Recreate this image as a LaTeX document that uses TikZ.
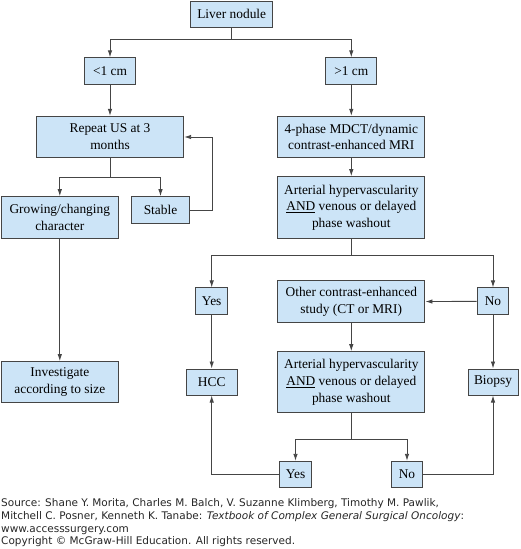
\documentclass[tikz,border=0pt]{standalone}
\usepackage{fontspec}
\setmainfont{Liberation Serif}
\newfontfamily\srcfont{DejaVu Sans}
\usetikzlibrary{arrows.meta}
\definecolor{LNfill}{HTML}{CCE4F7}
\definecolor{LNline}{HTML}{454545}
\tikzset{LNbox/.style={draw=LNline,fill=LNfill,line width=1pt,align=center,inner sep=0pt,
           font=\fontsize{13.4}{16.8}\selectfont},
         LNarr/.style={draw=LNline,line width=0.9pt,-{Latex[length=7pt,width=4.5pt]}},
         LNln/.style={draw=LNline,line width=0.9pt}}

\begin{document}
\begin{tikzpicture}[x=1pt,y=-1pt]
  \useasboundingbox (0,0) rectangle (520,549);
  % top of the tree
  \node[LNbox,minimum width=82pt,minimum height=26.3pt] (liver) at (231.7,14.2) {Liver nodule};
  \node[LNbox,minimum width=50.7pt,minimum height=26.3pt] (lt) at (110,71) {<1 cm};
  \node[LNbox,minimum width=50.7pt,minimum height=26.3pt] (gt) at (351.3,71) {>1 cm};
  \draw[LNarr] (liver.south) -- ++(0,11.4) -| (lt.north);
  \draw[LNarr] (liver.south) -- ++(0,11.4) -| (gt.north);
  % left branch
  \node[LNbox,minimum width=147.3pt,minimum height=41.3pt] (repeat) at (110,137) {Repeat US at 3\\months};
  \node[LNbox,minimum width=117pt,minimum height=42pt] (grow) at (59.8,217.7) {Growing/changing\\character};
  \node[LNbox,minimum width=58.4pt,minimum height=26.6pt] (stable) at (160.5,210) {Stable};
  \node[LNbox,minimum width=117pt,minimum height=41.3pt] (invest) at (59.8,382.3) {Investigate\\according to size};
  \draw[LNarr] (lt) -- (repeat);
  \draw[LNarr] (repeat.south) -- ++(0,19.6) -| (grow.north);
  \draw[LNarr] (repeat.south) -- ++(0,19.6) -| (stable.north);
  \draw[LNarr] (stable.east) -- ++(22,0) |- (repeat.east);
  \draw[LNarr] (grow) -- (invest);
  % right branch
  \node[LNbox,minimum width=147.3pt,minimum height=41.3pt] (mdct) at (351.3,137) {4-phase MDCT/dynamic\\contrast-enhanced MRI};
  \node[LNbox,minimum width=147.3pt,minimum height=62pt] (art1) at (351.3,207.7) {Arterial hypervascularity\\\underline{AND} venous or delayed\\phase washout};
  \node[LNbox,minimum width=32pt,minimum height=26.7pt] (yes1) at (211.7,301.3) {Yes};
  \node[LNbox,minimum width=147.3pt,minimum height=41.7pt] (other) at (351.3,301.8) {Other contrast-enhanced\\study (CT or MRI)};
  \node[LNbox,minimum width=31.6pt,minimum height=26.7pt] (no1) at (493,301.3) {No};
  \node[LNbox,minimum width=50.7pt,minimum height=26pt] (hcc) at (211.7,382) {HCC};
  \node[LNbox,minimum width=147.3pt,minimum height=61pt] (art2) at (351.3,382.2) {Arterial hypervascularity\\\underline{AND} venous or delayed\\phase washout};
  \node[LNbox,minimum width=50pt,minimum height=26pt] (biopsy) at (493,382) {Biopsy};
  \node[LNbox,minimum width=32.4pt,minimum height=26pt] (yes2) at (295.5,474.3) {Yes};
  \node[LNbox,minimum width=31.7pt,minimum height=26pt] (no2) at (407,474.3) {No};
  \draw[LNarr] (gt) -- (mdct);
  \draw[LNarr] (mdct) -- (art1);
  \draw[LNarr] (art1.south) -- ++(0,16) -| (yes1.north);
  \draw[LNarr] (art1.south) -- ++(0,16) -| (no1.north);
  \draw[LNarr] (no1) -- (other);
  \draw[LNarr] (yes1) -- (hcc);
  \draw[LNarr] (no1) -- (biopsy);
  \draw[LNarr] (other) -- (art2);
  \draw[LNarr] (art2.south) -- ++(0,26.3) -| (yes2.north);
  \draw[LNarr] (art2.south) -- ++(0,26.3) -| (no2.north);
  \draw[LNarr] (yes2.west) -| (hcc.south);
  \draw[LNarr] (no2.east) -| (biopsy.south);
  % source line
  \node[anchor=north west,align=left,inner sep=0pt,text=black!85,font=\srcfont\fontsize{10.5}{12.7}\selectfont] (src) at (1,498.5)
    {Source: Shane Y. Morita, Charles M. Balch, V. Suzanne Klimberg, Timothy M. Pawlik,\\
     Mitchell C. Posner, Kenneth K. Tanabe: \textit{Textbook of Complex General Surgical Oncology}:\\
     www.accesssurgery.com\\
     Copyright © McGraw-Hill Education. All rights reserved.};
\end{tikzpicture}
\end{document}
